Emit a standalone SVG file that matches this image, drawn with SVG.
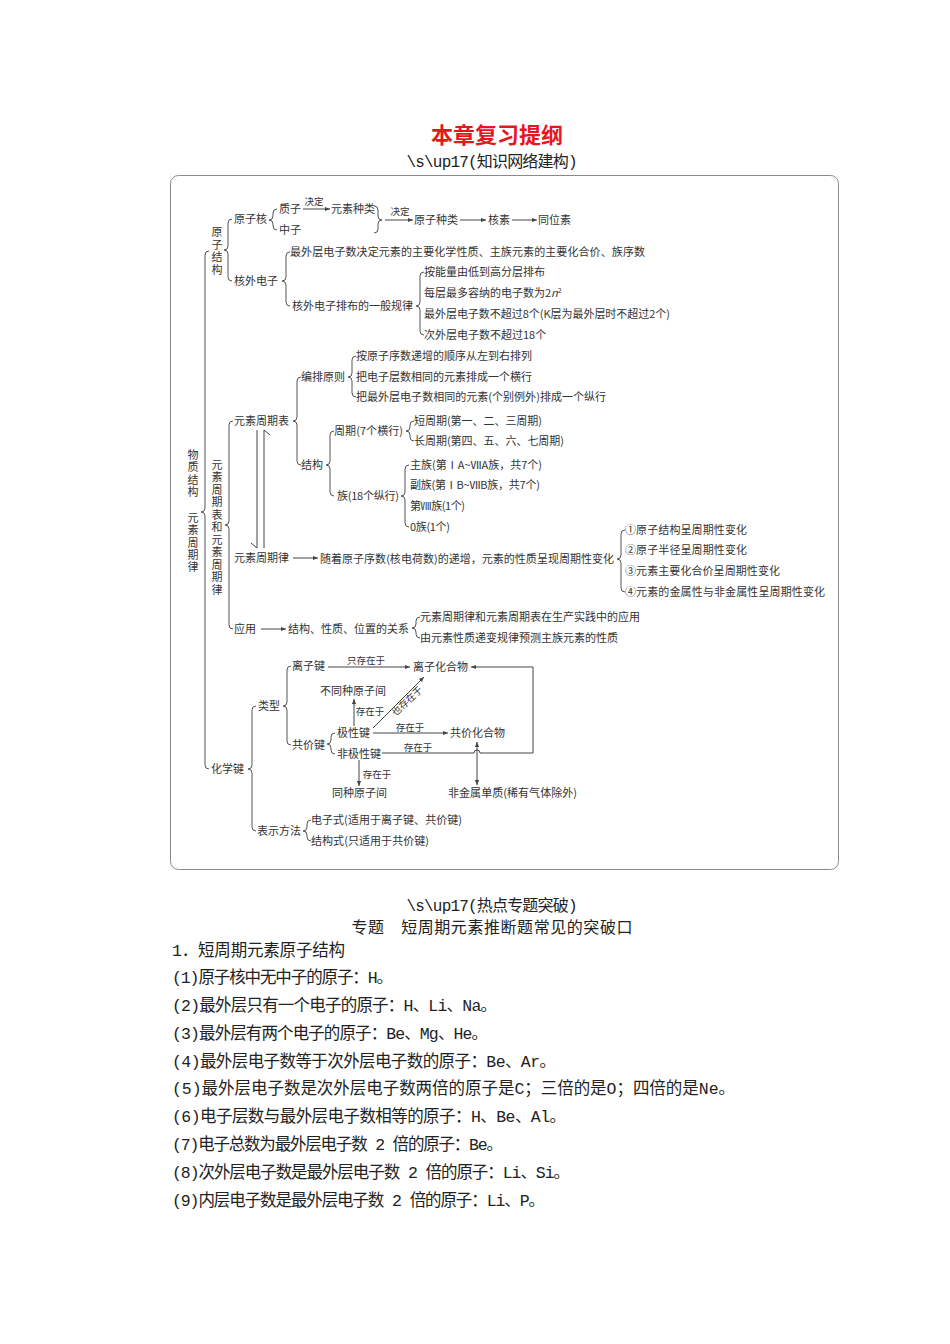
<svg xmlns="http://www.w3.org/2000/svg" width="950" height="1344" viewBox="0 0 950 1344">
<style>
.t{font-family:"Noto Sans CJK SC",sans-serif;font-size:11px;fill:#333}
.s{font-family:"Noto Sans CJK SC",sans-serif;font-size:9.5px;fill:#333}
.v{font-family:"Noto Sans CJK SC",sans-serif;font-size:11px;fill:#333;text-anchor:middle}
.br{fill:none;stroke:#555;stroke-width:1}
.ln{fill:none;stroke:#444;stroke-width:1}
.ar{fill:none;stroke:#444;stroke-width:1;marker-end:url(#ah)}
.body{font-family:"Liberation Mono","Noto Sans CJK SC",monospace;font-size:16.5px;fill:#222}
.hd{font-family:"Liberation Mono","Noto Sans CJK SC",monospace;font-size:16px;fill:#222;text-anchor:middle}
</style>
<defs>
<marker id="ah" markerWidth="6" markerHeight="6" refX="5" refY="3" orient="auto" markerUnits="userSpaceOnUse"><path d="M0,0.9 L5,3 L0,5.1 Z" fill="#444"/></marker>
<marker id="ahs" markerWidth="6" markerHeight="6" refX="5" refY="3" orient="auto-start-reverse" markerUnits="userSpaceOnUse"><path d="M0,0.9 L5,3 L0,5.1 Z" fill="#444"/></marker>
</defs>
<rect width="950" height="1344" fill="#fff"/>

<g id="title">
<text x="497" y="143" text-anchor="middle" style="font-family:'Noto Sans CJK SC',sans-serif;font-size:22px;font-weight:bold;fill:#e8161b">本章复习提纲</text>
<text class="hd" x="492" y="167" textLength="171">\s\up17(知识网络建构)</text>
</g>

<rect id="frame" x="170.5" y="175.5" width="668" height="694" rx="8" fill="#fff" stroke="#8a8a8a" stroke-width="1"/>

<g id="connectors">
<path class="br" d="M209,251 Q205,251 205,255 L205,508 Q205,512 201,512 Q205,512 205,516 L205,765 Q205,769 209,769"/>
<path class="br" d="M232,219 Q228,219 228,223 L228,246 Q228,250 224,250 Q228,250 228,254 L228,277 Q228,281 232,281"/>
<path class="br" d="M277,209 Q273,209 273,213 L273,216 Q273,220 269,220 Q273,220 273,224 L273,226 Q273,230 277,230"/>
<path class="br" d="M374,206 Q378,206 378,210 L378,216 Q378,220 382,220 Q378,220 378,224 L378,229 Q378,233 374,233"/>
<path class="br" d="M290,252 Q286,252 286,256 L286,277 Q286,281 282,281 Q286,281 286,285 L286,302 Q286,306 290,306"/>
<path class="br" d="M424,272 Q420,272 420,276 L420,302 Q420,306 416,306 Q420,306 420,310 L420,331 Q420,335 424,335"/>
<path class="br" d="M233,421 Q229,421 229,425 L229,521 Q229,525 225,525 Q229,525 229,529 L229,625 Q229,629 233,629"/>
<path class="br" d="M301,377 Q297,377 297,381 L297,417 Q297,421 293,421 Q297,421 297,425 L297,461 Q297,465 301,465"/>
<path class="br" d="M356,356 Q352,356 352,360 L352,373 Q352,377 348,377 Q352,377 352,381 L352,393 Q352,397 356,397"/>
<path class="br" d="M334,431 Q330,431 330,435 L330,461 Q330,465 326,465 Q330,465 330,469 L330,492 Q330,496 334,496"/>
<path class="br" d="M414,421 Q410,421 410,425 L410,427 Q410,431 406,431 Q410,431 410,435 L410,437 Q410,441 414,441"/>
<path class="br" d="M409,465 Q405,465 405,469 L405,492 Q405,496 401,496 Q405,496 405,500 L405,523 Q405,527 409,527"/>
<path class="br" d="M625,530 Q621,530 621,534 L621,555 Q621,559 617,559 Q621,559 621,563 L621,588 Q621,592 625,592"/>
<path class="br" d="M420,617 Q416,617 416,621 L416,624 Q416,628 412,628 Q416,628 416,632 L416,634 Q416,638 420,638"/>
<path class="br" d="M256,706 Q252,706 252,710 L252,765 Q252,769 248,769 Q252,769 252,773 L252,827 Q252,831 256,831"/>
<path class="br" d="M291,666 Q287,666 287,670 L287,702 Q287,706 283,706 Q287,706 287,710 L287,741 Q287,745 291,745"/>
<path class="br" d="M335,733 Q331,733 331,737 L331,740 Q331,744 327,744 Q331,744 331,748 L331,750 Q331,754 335,754"/>
<path class="br" d="M311,820 Q307,820 307,824 L307,827 Q307,831 303,831 Q307,831 307,835 L307,837 Q307,841 311,841"/>
<line class="ar" x1="303" y1="209" x2="330" y2="209"/>
<line class="ar" x1="385" y1="220" x2="413" y2="220"/>
<line class="ar" x1="460" y1="220" x2="486" y2="220"/>
<line class="ar" x1="512" y1="220" x2="537" y2="220"/>
<line class="ar" x1="293" y1="558" x2="318" y2="558"/>
<line class="ar" x1="261" y1="629" x2="286" y2="629"/>
<path class="ln" d="M257,430 L257,548 L251,543"/>
<path class="ln" d="M264,548 L264,430 L270,435"/>
<line class="ar" x1="328" y1="667" x2="410" y2="667"/>
<path class="ar" d="M382,753 L474,753 A3,3 0 0 1 480,753 L533,753 L533,667 L471,667"/>
<line class="ar" x1="354" y1="726" x2="354" y2="699"/>
<line class="ar" x1="373" y1="728" x2="424" y2="677"/>
<line class="ar" x1="373" y1="733" x2="448" y2="733"/>
<line class="ln" x1="477" y1="742" x2="477" y2="785" style="marker-start:url(#ahs);marker-end:url(#ah)"/>
<line class="ar" x1="359" y1="760" x2="359" y2="786"/>
<text class="s" x="314" y="205" text-anchor="middle">决定</text>
<text class="s" x="400" y="215" text-anchor="middle">决定</text>
<text class="s" x="366" y="664" text-anchor="middle">只存在于</text>
<text class="s" x="370" y="715" text-anchor="middle">存在于</text>
<text class="s" x="410" y="731" text-anchor="middle">存在于</text>
<text class="s" x="418" y="751" text-anchor="middle">存在于</text>
<text class="s" x="377" y="778" text-anchor="middle">存在于</text>
<text class="s" transform="translate(407,701) rotate(-43)" y="3.5" text-anchor="middle">也存在于</text>
</g>

<g id="n-root"><text class="v" x="193 193 193 193 193 193 193 193 193" y="459 471 484 496 522 534 547 559 571">物质结构元素周期律</text></g>
<g id="n-atom"><text class="v" x="217 217 217 217" y="236 249 261 274">原子结构</text></g>
<g id="n-ptl"><text class="v" x="217 217 217 217 217 217 217 217 217 217 217" y="469 481 494 506 519 531 544 556 569 581 594">元素周期表和元素周期律</text></g>

<g id="n-nucleus"><text class="t" x="234" y="223">原子核</text></g>
<g id="n-outer"><text class="t" x="234" y="285">核外电子</text></g>
<g id="n-proton"><text class="t" x="279" y="213">质子</text></g>
<g id="n-neutron"><text class="t" x="279" y="234">中子</text></g>
<g id="n-elemtype"><text class="t" x="331" y="213">元素种类</text></g>
<g id="n-atomtype"><text class="t" x="414" y="224">原子种类</text></g>
<g id="n-nuclide"><text class="t" x="488" y="224">核素</text></g>
<g id="n-isotope"><text class="t" x="538" y="224">同位素</text></g>
<g id="n-outermost"><text class="t" x="290" y="256" textLength="355">最外层电子数决定元素的主要化学性质、主族元素的主要化合价、族序数</text></g>
<g id="n-rule"><text class="t" x="292" y="310">核外电子排布的一般规律</text></g>
<g id="n-r1"><text class="t" x="424" y="276">按能量由低到高分层排布</text></g>
<g id="n-r2"><text class="t" x="424" y="297">每层最多容纳的电子数为2<tspan font-style="italic">n</tspan><tspan font-size="7" dy="-4">2</tspan></text></g>
<g id="n-r3"><text class="t" x="424" y="318" textLength="246">最外层电子数不超过8个(K层为最外层时不超过2个)</text></g>
<g id="n-r4"><text class="t" x="424" y="339">次外层电子数不超过18个</text></g>

<g id="n-table"><text class="t" x="234" y="425">元素周期表</text></g>
<g id="n-arrange"><text class="t" x="301" y="381">编排原则</text></g>
<g id="n-a1"><text class="t" x="356" y="360">按原子序数递增的顺序从左到右排列</text></g>
<g id="n-a2"><text class="t" x="356" y="381">把电子层数相同的元素排成一个横行</text></g>
<g id="n-a3"><text class="t" x="356" y="401" textLength="250">把最外层电子数相同的元素(个别例外)排成一个纵行</text></g>
<g id="n-struct"><text class="t" x="301" y="469">结构</text></g>
<g id="n-period"><text class="t" x="334" y="435" textLength="69">周期(7个横行)</text></g>
<g id="n-p1"><text class="t" x="414" y="425" textLength="128">短周期(第一、二、三周期)</text></g>
<g id="n-p2"><text class="t" x="414" y="445" textLength="150">长周期(第四、五、六、七周期)</text></g>
<g id="n-group"><text class="t" x="337" y="500" textLength="62">族(18个纵行)</text></g>
<g id="n-g1"><text class="t" x="410" y="469" textLength="132">主族(第ⅠA~ⅦA族，共7个)</text></g>
<g id="n-g2"><text class="t" x="410" y="489" textLength="130">副族(第ⅠB~ⅦB族，共7个)</text></g>
<g id="n-g3"><text class="t" x="410" y="510" textLength="55">第Ⅷ族(1个)</text></g>
<g id="n-g4"><text class="t" x="410" y="531" textLength="40">0族(1个)</text></g>

<g id="n-law"><text class="t" x="234" y="562">元素周期律</text></g>
<g id="n-lawdesc"><text class="t" x="320" y="563" textLength="294">随着原子序数(核电荷数)的递增，元素的性质呈现周期性变化</text></g>
<g id="n-l1"><text class="t" x="625" y="534" textLength="122">①原子结构呈周期性变化</text></g>
<g id="n-l2"><text class="t" x="625" y="554" textLength="122">②原子半径呈周期性变化</text></g>
<g id="n-l3"><text class="t" x="625" y="575" textLength="155">③元素主要化合价呈周期性变化</text></g>
<g id="n-l4"><text class="t" x="625" y="596" textLength="200">④元素的金属性与非金属性呈周期性变化</text></g>

<g id="n-app"><text class="t" x="234" y="633">应用</text></g>
<g id="n-relation"><text class="t" x="288" y="633">结构、性质、位置的关系</text></g>
<g id="n-ap1"><text class="t" x="420" y="621">元素周期律和元素周期表在生产实践中的应用</text></g>
<g id="n-ap2"><text class="t" x="420" y="642">由元素性质递变规律预测主族元素的性质</text></g>

<g id="n-bond"><text class="t" x="211" y="773">化学键</text></g>
<g id="n-type"><text class="t" x="258" y="710">类型</text></g>
<g id="n-ionic"><text class="t" x="292" y="670">离子键</text></g>
<g id="n-ioniccpd"><text class="t" x="413" y="671">离子化合物</text></g>
<g id="n-diffatom"><text class="t" x="320" y="695">不同种原子间</text></g>
<g id="n-covalent"><text class="t" x="292" y="749">共价键</text></g>
<g id="n-polar"><text class="t" x="337" y="737">极性键</text></g>
<g id="n-nonpolar"><text class="t" x="337" y="758">非极性键</text></g>
<g id="n-covcpd"><text class="t" x="450" y="737">共价化合物</text></g>
<g id="n-sameatom"><text class="t" x="332" y="797">同种原子间</text></g>
<g id="n-nonmetal"><text class="t" x="448" y="797" textLength="129">非金属单质(稀有气体除外)</text></g>
<g id="n-repr"><text class="t" x="257" y="835">表示方法</text></g>
<g id="n-rp1"><text class="t" x="311" y="824" textLength="151">电子式(适用于离子键、共价键)</text></g>
<g id="n-rp2"><text class="t" x="311" y="845" textLength="118">结构式(只适用于共价键)</text></g>

<g id="text-body">
<text class="hd" x="492" y="911" textLength="171">\s\up17(热点专题突破)</text>
<text class="hd" x="492" y="933" textLength="281">专题　短周期元素推断题常见的突破口</text>
<text class="body" x="172" y="956" textLength="173">1．短周期元素原子结构</text>
<text class="body" x="172" y="983" textLength="221">(1)原子核中无中子的原子：H。</text>
<text class="body" x="172" y="1011" textLength="325">(2)最外层只有一个电子的原子：H、Li、Na。</text>
<text class="body" x="172" y="1039" textLength="316">(3)最外层有两个电子的原子：Be、Mg、He。</text>
<text class="body" x="172" y="1067" textLength="384">(4)最外层电子数等于次外层电子数的原子：Be、Ar。</text>
<text class="body" x="172" y="1094" textLength="563">(5)最外层电子数是次外层电子数两倍的原子是C；三倍的是O；四倍的是Ne。</text>
<text class="body" x="172" y="1122" textLength="394">(6)电子层数与最外层电子数相等的原子：H、Be、Al。</text>
<text class="body" x="172" y="1150" textLength="331">(7)电子总数为最外层电子数 2 倍的原子：Be。</text>
<text class="body" x="172" y="1178" textLength="398">(8)次外层电子数是最外层电子数 2 倍的原子：Li、Si。</text>
<text class="body" x="172" y="1206" textLength="373">(9)内层电子数是最外层电子数 2 倍的原子：Li、P。</text>
</g>
</svg>
